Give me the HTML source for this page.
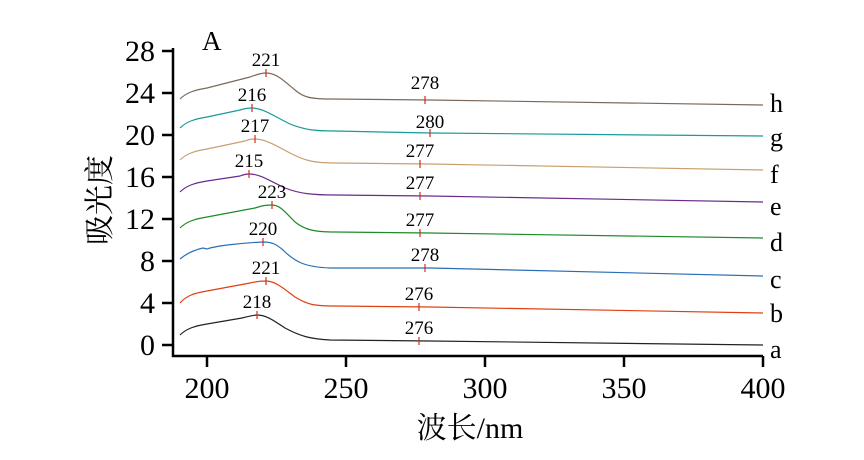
<!DOCTYPE html>
<html><head><meta charset="utf-8"><style>
body{margin:0;background:#fff}
svg text{font-family:"Liberation Serif","Noto Serif CJK SC",serif;fill:#000}
</style></head><body>
<svg width="864" height="455" viewBox="0 0 864 455" xmlns="http://www.w3.org/2000/svg">
<g stroke="#000" stroke-width="2.5" fill="none">
<path d="M173,48 V356 H763"/>
<path d="M162,51H173M162,93H173M162,135H173M162,177H173M162,219H173M162,261H173M162,303H173M162,345H173"/>
<path d="M207,356V367M346,356V367M485,356V367M624,356V367M763,356V367"/>
</g>
<g font-size="30" text-anchor="end">
<text x="155" y="61">28</text><text x="155" y="103">24</text><text x="155" y="145">20</text><text x="155" y="187">16</text><text x="155" y="229">12</text><text x="155" y="271">8</text><text x="155" y="313">4</text><text x="155" y="355">0</text>
</g>
<g font-size="30" text-anchor="middle">
<text x="207" y="398">200</text><text x="346" y="398">250</text><text x="485" y="398">300</text><text x="624" y="398">350</text><text x="763" y="398">400</text>
<text x="470" y="438">波长/nm</text>
<text transform="translate(110,200) rotate(-90)">吸光度</text>
</g>
<text x="202" y="50" font-size="27">A</text>
<g fill="none" stroke-width="1.2">
<path stroke="#222" d="M180,335 C186,329 194,326 207,324 L242,318 C250,316 254,315 257,315 C266,315 273,320 285,328 C300,336 310,339 330,340 L430,341 L763,345"/>
<path stroke="#e04010" d="M180,303 C186,296 194,293 207,291 L250,283 C258,281 262,281 266,281 C275,281 283,288 295,297 C308,305 315,306 335,306 L430,307 L763,313"/>
<path stroke="#2a6fb5" d="M180,259 C186,254 194,250 203,248 L207,249 C215,246 240,243 263,242 C272,242 276,244 283,250 C295,262 305,267 330,268 L430,268 L763,276"/>
<path stroke="#1e8a2a" d="M180,228 C186,222 194,219 207,217 L255,208 C264,205 268,205 272,205 C280,205 285,212 295,222 C305,230 315,232 335,232 L430,233 L763,238"/>
<path stroke="#6a2a8a" d="M180,192 C186,186 194,183 207,181 L240,176 C245,174 247,174 249,174 C260,174 268,180 285,188 C300,194 315,195 335,195 L430,196 L763,202"/>
<path stroke="#c8a070" d="M180,160 C186,154 194,151 207,149 L245,141 C250,139 252,139 255,139 C265,139 275,145 290,153 C305,161 315,163 335,163 L430,164 L763,170"/>
<path stroke="#1a9a9a" d="M180,128 C186,122 194,119 207,117 L240,110 C246,108 249,108 252,108 C262,108 272,115 290,124 C305,130 315,131 335,131 L430,133 L763,136"/>
<path stroke="#7a6a5a" d="M180,99 C186,93 194,90 207,88 L250,77 C258,74 262,73 266,73 C276,73 283,80 295,90 C303,97 310,99 330,99 L430,100 L763,105"/>
</g>
<g stroke="#d03020" stroke-width="1.2">
<path d="M257,311v8M266,277v8M263,238v8M272,201v8M249,170v8M255,135v8M252,104v8M266,69v8"/>
<path d="M419,337v8M419,303v8M425,264v8M420,229v8M420,192v8M420,160v8M430,129v8M425,96v8"/>
</g>
<g font-size="19" text-anchor="middle">
<text x="257" y="308">218</text><text x="266" y="274">221</text><text x="263" y="235">220</text><text x="272" y="198">223</text><text x="249" y="167">215</text><text x="255" y="132">217</text><text x="252" y="101">216</text><text x="266" y="66">221</text>
<text x="419" y="334">276</text><text x="419" y="300">276</text><text x="425" y="261">278</text><text x="420" y="226">277</text><text x="420" y="189">277</text><text x="420" y="157">277</text><text x="430" y="128">280</text><text x="425" y="89">278</text>
</g>
<g font-size="26">
<text x="770" y="358">a</text><text x="770" y="322">b</text><text x="770" y="288">c</text><text x="770" y="251">d</text><text x="770" y="215">e</text><text x="770" y="183">f</text><text x="770" y="146">g</text><text x="770" y="112">h</text>
</g>
</svg>
</body></html>
